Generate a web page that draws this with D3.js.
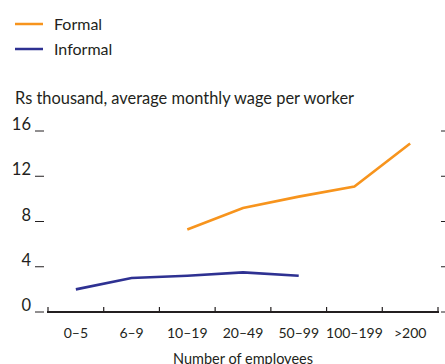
<!DOCTYPE html>
<html><head><meta charset="utf-8">
<script src="https://cdn.jsdelivr.net/npm/d3@7"></script>
<style>body{margin:0;background:#fff}svg{display:block}text{font-family:Lato,"Open Sans",sans-serif;fill:#231f20}</style>
</head><body><svg id="c" width="445" height="364"></svg>
<script>
const categories = ["0–5","6–9","10–19","20–49","50–99","100–199",">200"];
const formal = [null,null,7.3,9.2,10.2,11.1,14.9];
const informal = [2.0,3.0,3.2,3.5,3.2,null,null];
const yTicks = [0,4,8,12,16];
const seriesNames = ["Formal","Informal"];
const colors = ["#f7941d","#2e3192"];

const svg = d3.select("#c");
const x = d3.scaleBand().domain(categories).range([48,438]);
const y = d3.scaleLinear().domain([0,16]).range([312,131]);

// legend
seriesNames.forEach((n,i)=>{
  const ly = 24 + i*25;
  svg.append("line").attr("x1",15).attr("x2",43).attr("y1",ly).attr("y2",ly)
    .attr("stroke",colors[i]).attr("stroke-width",2.5);
  svg.append("text").attr("x",54).attr("y",ly+6).attr("font-size",16).text(n);
});

svg.append("text").attr("x",15).attr("y",104).attr("font-size",16.4)
  .text("Rs thousand, average monthly wage per worker");

// y ticks left
const gy = svg.append("g");
yTicks.forEach(t=>{
  gy.append("line").attr("x1",35).attr("x2",44).attr("y1",y(t)).attr("y2",y(t))
    .attr("stroke","#231f20").attr("stroke-width",1);
  gy.append("line").attr("x1",441).attr("x2",445).attr("y1",y(t)).attr("y2",y(t))
    .attr("stroke","#231f20").attr("stroke-width",1);
  gy.append("text").attr("x",31).attr("y",y(t)-1).attr("text-anchor","end")
    .attr("font-size",16.5).text(t);
});

// x axis
const gx = svg.append("g").attr("transform","translate(0,312)")
  .call(d3.axisBottom(x).tickSize(0).tickPadding(16));
gx.select(".domain").remove();
gx.selectAll("text").attr("font-size",14).attr("font-family","Lato,'Open Sans',sans-serif").attr("fill","#231f20");
svg.append("line").attr("x1",47).attr("x2",439).attr("y1",312).attr("y2",312)
  .attr("stroke","#231f20").attr("stroke-width",2.2);
const bounds = categories.map(c=>x(c)).concat([x.range()[1]]);
bounds.forEach(b=>{
  svg.append("line").attr("x1",b).attr("x2",b).attr("y1",312).attr("y2",307)
    .attr("stroke","#231f20").attr("stroke-width",1.2);
});
svg.append("text").attr("x",243).attr("y",364).attr("text-anchor","middle")
  .attr("font-size",14.5).text("Number of employees");

// lines
const line = d3.line().defined(d=>d.v!=null)
  .x(d=>x(d.c)+x.bandwidth()/2).y(d=>y(d.v));
[formal,informal].forEach((s,i)=>{
  svg.append("path").datum(categories.map((c,j)=>({c,v:s[j]})))
    .attr("d",line).attr("fill","none").attr("stroke",colors[i]).attr("stroke-width",2.6);
});
</script></body></html>
